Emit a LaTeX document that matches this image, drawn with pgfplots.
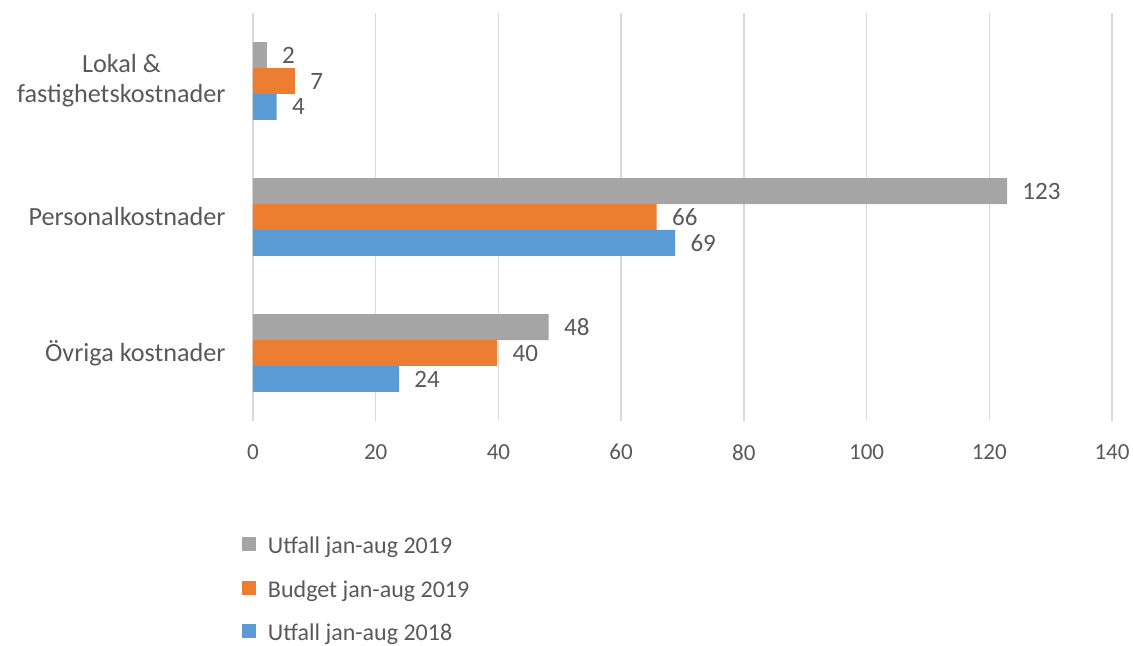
\documentclass[border=0pt]{standalone}
\usepackage{pgfplots}
\pgfplotsset{compat=1.18}
\usepackage{fontspec}
\setmainfont{Carlito}
\definecolor{cgray}{HTML}{A5A5A5}
\definecolor{corange}{HTML}{ED7D31}
\definecolor{cblue}{HTML}{5B9BD5}
\definecolor{txt}{HTML}{595959}
\definecolor{gridc}{HTML}{D9D9D9}
\begin{document}
\begin{tikzpicture}
\useasboundingbox (-126.5pt,-112.5pt) rectangle (440.5pt,210.5pt);
\begin{axis}[
  scale only axis, width=429.5pt, height=204pt,
  xbar, bar width=0.191,
  xmin=0, xmax=140, ymin=-0.5, ymax=2.5,
  xtick={0,20,...,140}, ytick={0,1,2},
  yticklabels={Övriga kostnader, Personalkostnader, {Lokal \&\\fastighetskostnader}},
  yticklabel style={align=center, font=\fontsize{13.1}{15}\selectfont, text=txt, anchor=east, inner sep=0pt, xshift=-13.5pt},
  xticklabel style={font=\fontsize{11.5}{12}\selectfont, text=txt, anchor=north, inner sep=0pt, yshift=-11.5pt},
  /pgf/number format/assume math mode=true,
  major tick length=0pt,
  axis line style={draw=none},
  xmajorgrids, grid style={gridc, line width=0.75pt},
  nodes near coords={\pgfmathprintnumber[fixed,precision=0]{\pgfplotspointmeta}},
  nodes near coords style={font=\fontsize{12.5}{13}\selectfont, text=txt, anchor=west, inner sep=0pt, xshift=7.5pt},
  legend style={at={(rel axis cs:0,0)}, anchor=north west, xshift=-5.5pt, yshift=-57.8pt,
    draw=none, fill=none, inner sep=0pt, outer sep=0pt, row sep=10.3pt, column sep=6pt,
    font=\fontsize{12}{13}\selectfont, text=txt,
    nodes={inner sep=0pt, text height=8.5pt, text depth=3pt}},
  legend cell align=left,
  legend image code/.code={\fill[#1, draw=none] (0pt,-1.5pt) rectangle (7pt,5.5pt);},
]
\addplot[fill=cgray, draw=none, bar shift=0.191] coordinates {(48.2,0) (122.9,1) (2.25,2)};
\addplot[fill=corange, draw=none, bar shift=0] coordinates {(39.8,0) (65.8,1) (6.84,2)};
\addplot[fill=cblue, draw=none, bar shift=-0.191] coordinates {(23.8,0) (68.8,1) (3.86,2)};
\legend{Utfall jan-aug 2019, Budget jan-aug 2019, Utfall jan-aug 2018}
\end{axis}
\end{tikzpicture}
\end{document}
